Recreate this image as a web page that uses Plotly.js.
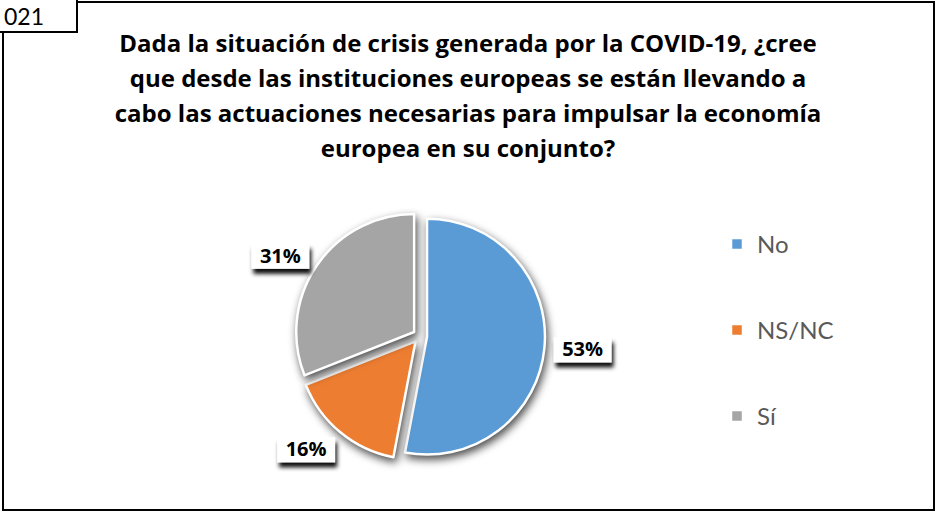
<!DOCTYPE html>
<html>
<head>
<meta charset="utf-8">
<script src="https://cdn.plot.ly/plotly-3.0.1.min.js"></script>
<style>
  html, body { margin: 0; padding: 0; background: #fff; }
  #chart { width: 936px; height: 512px; }
  .pielayer path.surface { filter: drop-shadow(2px 4px 4px rgba(0,0,0,0.7)); }
</style>
</head>
<body>
<svg width="0" height="0" style="position:absolute">
  <defs>
    <filter id="boxsh" x="-40%" y="-40%" width="190%" height="220%">
      <feDropShadow dx="2" dy="5" stdDeviation="2.2" flood-color="#000" flood-opacity="0.95"/>
    </filter>
  </defs>
</svg>
<div id="chart"></div>
<script>
// ---- data ----
const labels = ["No", "NS/NC", "Sí"];
const values = [53, 16, 31];
const colors = ["#5B9BD5", "#ED7D31", "#A5A5A5"];
const titleLines = [
  "Dada la situación de crisis generada por la COVID-19, ¿cree",
  "que desde las instituciones europeas se están llevando a",
  "cabo las actuaciones necesarias para impulsar la economía",
  "europea en su conjunto?"
];
const cornerTag = "021";

// ---- layout helpers (pixel -> paper, margin 0) ----
const W = 936, H = 512;
const px = x => x / W;
const py = y => 1 - y / H;

const cx = 420, cy = 336, halfDomain = 125;

const data = [{
  type: "pie",
  labels: labels,
  values: values,
  marker: { colors: colors, line: { color: "#ffffff", width: 2.5 } },
  sort: false,
  direction: "clockwise",
  rotation: 0,
  pull: 0.06,
  textinfo: "percent",
  textposition: "outside",
  outsidetextfont: { family: "Open Sans", size: 20, color: "#000000", weight: 700 },
  hoverinfo: "none",
  domain: { x: [px(cx - halfDomain), px(cx + halfDomain)], y: [py(cy + halfDomain), py(cy - halfDomain)] }
}];

const layout = {
  width: W, height: H,
  margin: { l: 0, r: 0, t: 0, b: 0 },
  paper_bgcolor: "#ffffff",
  showlegend: true,
  legend: {
    x: px(717), xanchor: "left",
    y: py(222), yanchor: "top",
    font: { family: "Lato", size: 24, color: "#595959" },
    bgcolor: "rgba(0,0,0,0)"
  },
  title: {
    text: titleLines.join("<br>"),
    x: 0.5, xref: "paper", xanchor: "center",
    y: py(52), yref: "container", yanchor: "top",
    font: { family: "Open Sans", size: 24, color: "#000000", weight: 700 }
  },
  shapes: [
    { type: "rect", xref: "paper", yref: "paper", x0: px(3), x1: px(934), y0: py(510), y1: py(2),
      line: { color: "#000000", width: 2 }, fillcolor: "rgba(0,0,0,0)", layer: "below" },
    { type: "rect", xref: "paper", yref: "paper", x0: px(-2), x1: px(77), y0: py(32), y1: py(-2),
      line: { color: "#000000", width: 2 }, fillcolor: "#ffffff", layer: "above" }
  ],
  annotations: [
    { text: cornerTag, xref: "paper", yref: "paper", x: px(2), y: py(16), xanchor: "left", yanchor: "middle",
      showarrow: false, font: { family: "Lato", size: 23, color: "#000000" } }
  ]
};

const gd = document.getElementById("chart");
Plotly.newPlot(gd, data, layout, { staticPlot: true, displayModeBar: false }).then(() => {
  // wider line spacing for the title
  gd.querySelectorAll(".gtitle tspan.line").forEach((t, i) => t.setAttribute("dy", (i * 1.46) + "em"));
  // spread legend entries vertically
  const legendStep = 86;
  const items = Array.from(gd.querySelectorAll(".legend g.traces"));
  const pos = items.map(g => {
    const m = /translate\(\s*([-\d.e]+)[ ,]+([-\d.e]+)/.exec(g.getAttribute("transform") || "translate(0,0)");
    return [parseFloat(m[1]), parseFloat(m[2])];
  });
  items.forEach((g, i) => g.setAttribute("transform", "translate(" + pos[i][0] + "," + (pos[0][1] + i * legendStep) + ")"));
  gd.querySelectorAll(".legend [clip-path]").forEach(e => e.removeAttribute("clip-path"));
  // label boxes: push labels outward a bit and put a white box with a dark shadow behind each
  const total = values.reduce((a, b) => a + b, 0);
  let cum = 0;
  const extra = 11;
  const NS = "http://www.w3.org/2000/svg";
  gd.querySelectorAll(".pielayer g.slicetext").forEach((g, i) => {
    const mid = (cum + values[i] / 2) / total * 2 * Math.PI;
    cum += values[i];
    const dx = extra * Math.sin(mid), dy = -extra * Math.cos(mid);
    g.setAttribute("transform", "translate(" + dx.toFixed(2) + "," + dy.toFixed(2) + ")");
    const t = g.querySelector("text");
    if (!t) return;
    const bb = t.getBBox();
    const r = document.createElementNS(NS, "rect");
    r.setAttribute("x", bb.x - 8.5);
    r.setAttribute("y", bb.y + 2);
    r.setAttribute("width", bb.width + 17);
    r.setAttribute("height", Math.max(bb.height - 2, 20));
    r.setAttribute("fill", "#ffffff");
    r.setAttribute("filter", "url(#boxsh)");
    const tr = t.getAttribute("transform");
    if (tr) r.setAttribute("transform", tr);
    g.insertBefore(r, t);
  });
});
</script>
</body>
</html>
